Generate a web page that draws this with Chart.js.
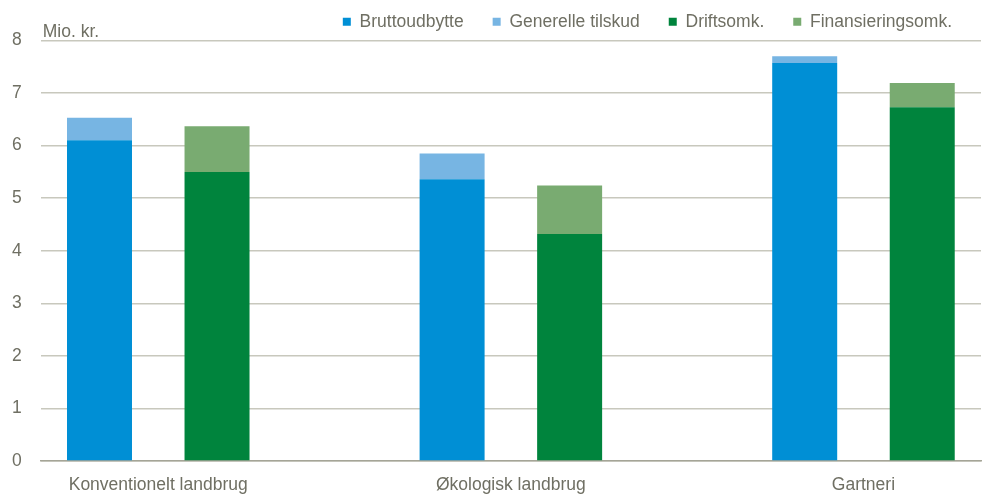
<!DOCTYPE html>
<html><head><meta charset="utf-8">
<script src="https://cdn.jsdelivr.net/npm/chart.js@4"></script>
<style>html,body{margin:0;padding:0;background:#fff}#wrap{width:984px;height:495px;position:relative}</style>
</head><body><div id="wrap"><canvas id="c"></canvas></div>
<script>
const categories = ['Konventionelt landbrug', 'Økologisk landbrug', 'Gartneri'];
const seriesNames = ['Bruttoudbytte', 'Generelle tilskud', 'Driftsomk.', 'Finansieringsomk.'];
const bruttoudbytte = [6.10, 5.36, 7.57];
const generelleTilskud = [0.43, 0.49, 0.13];
const driftsomk = [5.50, 4.32, 6.73];
const finansieringsomk = [0.87, 0.92, 0.46];
const yTicks = [0, 1, 2, 3, 4, 5, 6, 7, 8];
const yUnit = 'Mio. kr.';

// 8 slots: [income, cost, gap] per category (no gap after the last)
const slotCount = categories.length * 3 - 1;
function toSlots(vals, offset) {
  const out = new Array(slotCount).fill(null);
  vals.forEach((v, i) => { out[i * 3 + offset] = v; });
  return out;
}
// category name sits on the cost slot, shifted half a slot left (between the two bars)
const slotLabels = Array.from({length: slotCount}, (_, i) => (i % 3 === 1 ? categories[(i - 1) / 3] : ''));

const FONT = "'Liberation Sans Narrow', 'Arial Narrow', 'Liberation Sans', sans-serif";
const TXT = '#6f6f63';

const unitLabel = {
  id: 'unitLabel',
  afterDraw(chart) {
    const ctx = chart.ctx, a = chart.chartArea;
    ctx.save();
    ctx.font = '17.5px ' + FONT;
    ctx.fillStyle = TXT;
    ctx.textBaseline = 'alphabetic';
    ctx.fillText(yUnit, a.left + 2, a.top - 4);
    ctx.restore();
  }
};

const centerLabels = {
  id: 'centerLabels',
  beforeLayout(chart) {
    chart.options.scales.x.ticks.labelOffset = -(chart.width - 43) / slotCount / 2;
  }
};

new Chart(document.getElementById('c'), {
  type: 'bar',
  data: {
    labels: slotLabels,
    datasets: [
      {label: seriesNames[0], data: toSlots(bruttoudbytte, 0), backgroundColor: '#008fd5'},
      {label: seriesNames[1], data: toSlots(generelleTilskud, 0), backgroundColor: '#77b5e3'},
      {label: seriesNames[2], data: toSlots(driftsomk, 1), backgroundColor: '#00843d'},
      {label: seriesNames[3], data: toSlots(finansieringsomk, 1), backgroundColor: '#79ab71'}
    ]
  },
  options: {
    responsive: true,
    maintainAspectRatio: false,
    animation: false,
    layout: {padding: {left: -7, right: 3, top: -16, bottom: -15}},
    datasets: {bar: {categoryPercentage: 1, barPercentage: 0.553, skipNull: true}},
    plugins: {
      legend: {
        position: 'top', align: 'end',
        labels: {boxWidth: 8, boxHeight: 8, padding: 29, color: TXT, font: {family: FONT, size: 17.5}}
      },
      tooltip: {enabled: false}
    },
    scales: {
      x: {
        stacked: true,
        grid: {display: false, drawTicks: false},
        border: {display: true, color: '#a5a597', width: 1.5},
        ticks: {color: TXT, font: {family: FONT, size: 17.5}, padding: 14, autoSkip: false, maxRotation: 0, labelOffset: -59},
        afterFit(scale) { scale.paddingLeft = 0; scale.paddingRight = 0; }
      },
      y: {
        stacked: true, min: 0, max: 8,
        afterBuildTicks(scale) { scale.ticks = yTicks.map(v => ({value: v})); },
        grid: {color: '#c8c8bd', lineWidth: 1.5, drawTicks: false},
        border: {display: false},
        ticks: {color: TXT, font: {family: FONT, size: 17.5}, padding: 19}
      }
    }
  },
  plugins: [unitLabel, centerLabels]
});
</script></body></html>
